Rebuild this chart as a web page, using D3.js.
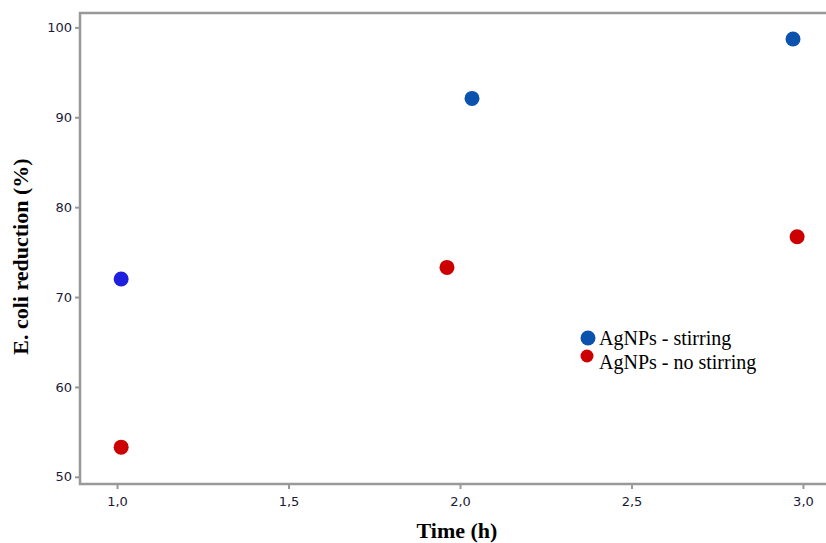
<!DOCTYPE html>
<style>
  body { margin: 0; background: #fff; }
  .tick text { font: 13px "DejaVu Sans", Arial, sans-serif; fill: #1a1a38; }
  .axis path { display: none; }
  .axis line { stroke: #999; stroke-width: 2px; }
  .frame { fill: none; stroke: #999; stroke-width: 2.5px; }
  .title { font: bold 22px "Liberation Serif", "Times New Roman", serif; fill: #000; }
  .legend text { font: 20px "Liberation Serif", "Times New Roman", serif; fill: #000; }
</style>
<body>
<script src="https://d3js.org/d3.v7.min.js"></script>
<script>

  var times = [1.0, 2.0, 3.0];
  var stirringX = [1.012, 2.035, 2.971],
      stirring = [72.0, 92.1, 98.7],
      stirringColors = ["#1f1fe0", "#0b52ad", "#0b52ad"];
  var noStirX = [1.012, 1.962, 2.983],
      noStirring = [53.3, 73.3, 76.7],
      noStirColors = ["#cc0000", "#cc0000", "#cc0000"];
  var xTicks = [1.0, 1.5, 2.0, 2.5, 3.0],
      yTicks = [50, 60, 70, 80, 90, 100];
  var legendLabels = ["AgNPs - stirring", "AgNPs - no stirring"],
      legendColors = ["#0b52ad", "#cc0000"];

  var margin = { top: 13, left: 80 },
      width = 760,
      height = 471;

  var svg = d3.select("body").append("svg")
      .attr("width", 826)
      .attr("height", 543);

  var g = svg.append("g")
      .attr("transform", "translate(" + margin.left + "," + margin.top + ")");

  var x = d3.scaleLinear().domain([0.892, 3.108]).range([0, width]);
  var y = d3.scaleLinear().domain([49.2, 101.6]).range([height, 0]);

  var fmt = function(d) { return d3.format(".1f")(d).replace(".", ","); };

  g.append("g")
      .attr("class", "axis")
      .attr("transform", "translate(0," + height + ")")
      .call(d3.axisBottom(x).tickValues(xTicks).tickFormat(fmt).tickSize(5).tickPadding(8));

  g.append("g")
      .attr("class", "axis")
      .call(d3.axisLeft(y).tickValues(yTicks).tickSize(5).tickPadding(3));

  g.append("path")
      .attr("class", "frame")
      .attr("d", "M" + (width + 10) + ",0H0V" + height + "H" + (width + 10));

  g.append("text")
      .attr("class", "title")
      .attr("text-anchor", "middle")
      .attr("x", x(2.0) - 3)
      .attr("y", height + 54)
      .text("Time (h)");

  g.append("text")
      .attr("class", "title")
      .attr("text-anchor", "middle")
      .attr("transform", "translate(-52," + y(74.5) + ") rotate(-90)")
      .text("E. coli reduction (%)");

  g.selectAll(".dot-s")
      .data(stirring)
      .enter().append("circle")
      .attr("cx", function(d, i) { return x(stirringX[i]); })
      .attr("cy", function(d) { return y(d); })
      .attr("r", 7.5)
      .attr("fill", function(d, i) { return stirringColors[i]; });

  g.selectAll(".dot-n")
      .data(noStirring)
      .enter().append("circle")
      .attr("cx", function(d, i) { return x(noStirX[i]); })
      .attr("cy", function(d) { return y(d); })
      .attr("r", 7.5)
      .attr("fill", function(d, i) { return noStirColors[i]; });

  var legend = svg.append("g")
      .attr("class", "legend")
      .attr("transform", "translate(588,338)");

  legend.selectAll("circle")
      .data(legendLabels)
      .enter().append("circle")
      .attr("cx", function(d, i) { return i ? -1 : 0; })
      .attr("cy", function(d, i) { return i * 18; })
      .attr("r", function(d, i) { return i ? 6.5 : 7.5; })
      .attr("fill", function(d, i) { return legendColors[i]; });

  legend.selectAll("text")
      .data(legendLabels)
      .enter().append("text")
      .attr("x", 11)
      .attr("y", function(d, i) { return 7 + i * 24; })
      .text(function(d) { return d; });

</script>
